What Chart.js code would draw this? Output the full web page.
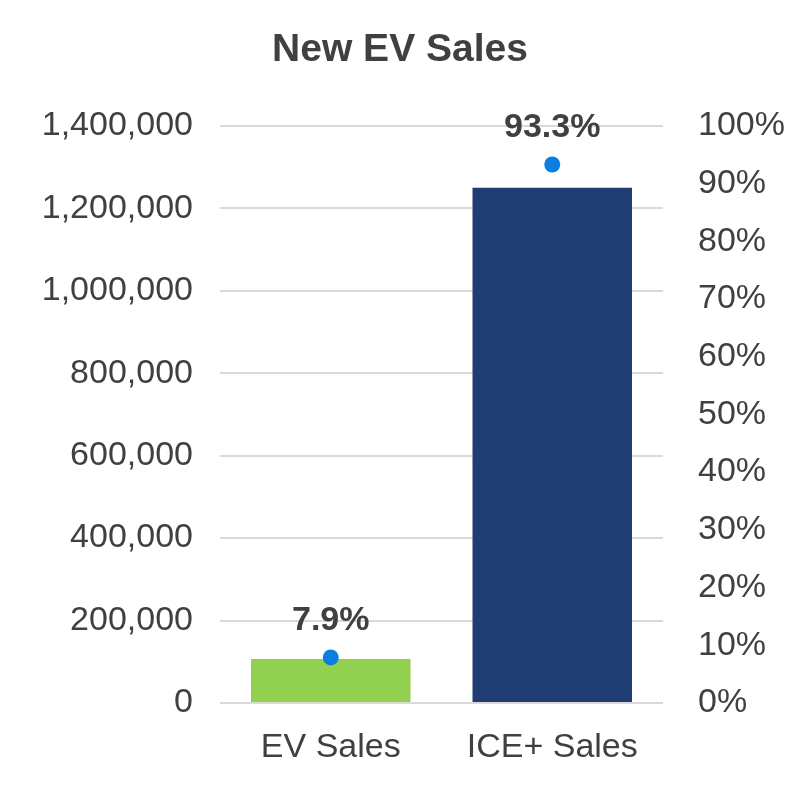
<!DOCTYPE html>
<html>
<head>
<meta charset="utf-8">
<script src="https://cdn.jsdelivr.net/npm/chart.js@4"></script>
<style>
  html, body { margin: 0; padding: 0; background: #fff; }
  #wrap { width: 800px; height: 800px; }
</style>
</head>
<body>
<div id="wrap"><canvas id="salesChart" width="800" height="800"></canvas></div>
<script>
// data
const categories = ["EV Sales", "ICE+ Sales"];
const salesUnits = [107000, 1250000];
const sharePct = [7.9, 93.3];
const shareLabels = ["7.9%", "93.3%"];

const textColor = "#404040";
const fontFamily = "'Liberation Sans', Arial, sans-serif";

// draws the bold % labels above the dots
const shareLabelPlugin = {
    id: "shareLabels",
    afterDatasetsDraw(chart) {
        let ctx = chart.ctx;
        let meta = chart.getDatasetMeta(1);
        ctx.save();
        ctx.font = "bold 34px " + fontFamily;
        ctx.fillStyle = textColor;
        ctx.textAlign = "center";
        ctx.textBaseline = "middle";
        meta.data.forEach((pt, i) => {
            ctx.fillText(shareLabels[i], pt.x, pt.y - 37);
        });
        ctx.restore();
    }
};

let ctx = document.getElementById("salesChart").getContext("2d");
new Chart(ctx, {
    type: "bar",
    data: {
        labels: categories,
        datasets: [
            {
                label: "Sales",
                data: salesUnits,
                backgroundColor: ["#92d050", "#1f3d72"],
                yAxisID: "y",
                categoryPercentage: 1,
                barPercentage: 0.72,
                order: 2
            },
            {
                type: "line",
                label: "Share",
                data: sharePct,
                yAxisID: "y1",
                showLine: false,
                pointRadius: 8,
                pointHoverRadius: 8,
                pointBackgroundColor: "#0b7fe0",
                pointBorderWidth: 0,
                order: 1
            }
        ]
    },
    options: {
        responsive: false,
        animation: false,
        layout: { padding: { left: 0, right: 0, top: 0, bottom: 0 } },
        plugins: {
            legend: { display: false },
            tooltip: { enabled: false },
            title: {
                display: true,
                text: "New EV Sales",
                color: textColor,
                font: { family: fontFamily, size: 39, weight: "bold" },
                padding: { top: 27, bottom: 52 }
            }
        },
        scales: {
            x: {
                grid: { display: false },
                border: { display: false },
                ticks: {
                    color: textColor,
                    font: { family: fontFamily, size: 34 },
                    padding: 16
                },
                afterFit: s => { s.height = 97; }
            },
            y: {
                position: "left",
                min: 0,
                max: 1400000,
                grid: { color: "#d9d9d9", lineWidth: 2, drawTicks: false },
                border: { display: false },
                ticks: {
                    stepSize: 200000,
                    color: textColor,
                    font: { family: fontFamily, size: 34 },
                    padding: 27,
                    callback: v => v.toLocaleString("en-US")
                },
                afterFit: s => { s.width = 220; }
            },
            y1: {
                position: "right",
                min: 0,
                max: 100,
                grid: { display: false },
                border: { display: false },
                ticks: {
                    stepSize: 10,
                    color: textColor,
                    font: { family: fontFamily, size: 34 },
                    padding: 27,
                    callback: v => v + "%"
                },
                afterFit: s => { s.width = 137; }
            }
        }
    },
    plugins: [shareLabelPlugin]
});
</script>
</body>
</html>
